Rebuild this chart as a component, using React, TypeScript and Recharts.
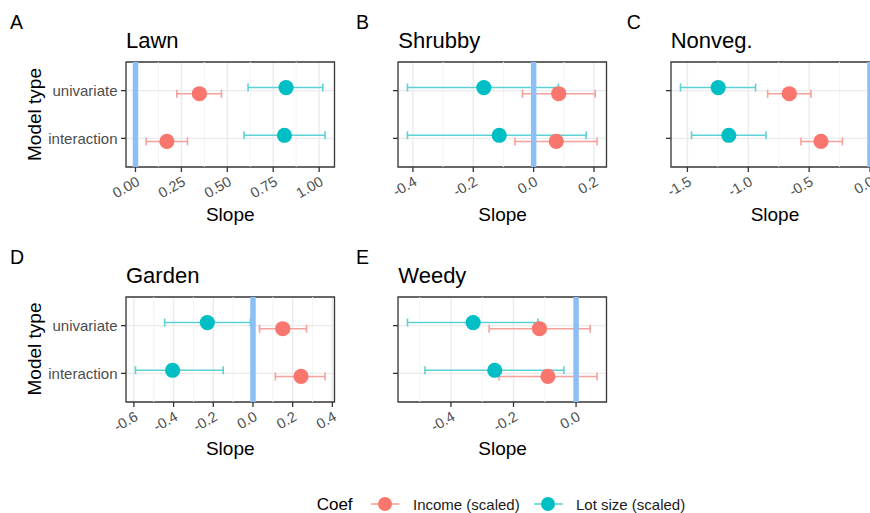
import React from 'react';
import {
  ScatterChart,
  Scatter,
  XAxis,
  YAxis,
  CartesianGrid,
  ErrorBar,
  ReferenceLine,
  ReferenceArea,
} from 'recharts';

const FONT = '"Liberation Sans", Arial, Helvetica, sans-serif';

const modelTypes = ['interaction', 'univariate'];
const coefNames = ['Income (scaled)', 'Lot size (scaled)'];
const coefColors = ['#F8766D', '#00BFC4'];
const coefBarColors = ['#f6a19b', '#5dd2d5'];

// [lower, estimate, upper] for the interaction model, then the univariate model
const lawnIncome = [[0.058, 0.171, 0.283], [0.225, 0.348, 0.468]];
const lawnLot = [[0.591, 0.811, 1.032], [0.613, 0.82, 1.02]];

const shrubbyIncome = [[-0.062, 0.075, 0.21], [-0.037, 0.083, 0.204]];
const shrubbyLot = [[-0.418, -0.114, 0.174], [-0.418, -0.165, 0.082]];

const nonvegIncome = [[-0.567, -0.403, -0.227], [-0.841, -0.663, -0.485]];
const nonvegLot = [[-1.466, -1.16, -0.855], [-1.557, -1.247, -0.94]];

const gardenIncome = [[0.113, 0.242, 0.363], [0.033, 0.15, 0.27]];
const gardenLot = [[-0.592, -0.405, -0.15], [-0.445, -0.23, -0.013]];

const weedyIncome = [[-0.246, -0.09, 0.067], [-0.278, -0.117, 0.045]];
const weedyLot = [[-0.483, -0.26, -0.039], [-0.539, -0.329, -0.122]];

const lawnTicks = [0, 0.25, 0.5, 0.75, 1];
const lawnMinor = [0.125, 0.375, 0.625, 0.875];
const shrubbyTicks = [-0.4, -0.2, 0, 0.2];
const shrubbyMinor = [-0.3, -0.1, 0.1];
const nonvegTicks = [-1.5, -1, -0.5, 0];
const nonvegMinor = [-1.25, -0.75, -0.25];
const gardenTicks = [-0.6, -0.4, -0.2, 0, 0.2, 0.4];
const gardenMinor = [-0.5, -0.3, -0.1, 0.1, 0.3];
const weedyTicks = [-0.4, -0.2, 0];
const weedyMinor = [-0.5, -0.3, -0.1];

// plot-panel size and placement
const PLOT_W = 208.5;
const PLOT_H = 105;
const Y_AXIS_W = 110;
const X_AXIS_H = 36;
const MT = 10;
const MR = 10;
const DODGE = [-0.065, 0.065];

const panels = [
  { letter: 'A', letterX: 10, title: 'Lawn', income: lawnIncome, lot: lawnLot, ticks: lawnTicks, minor: lawnMinor, digits: 2, left: 126, top: 62, showY: true },
  { letter: 'B', letterX: 356, title: 'Shrubby', income: shrubbyIncome, lot: shrubbyLot, ticks: shrubbyTicks, minor: shrubbyMinor, digits: 1, left: 398.3, top: 62, showY: false },
  { letter: 'C', letterX: 626.7, title: 'Nonveg.', income: nonvegIncome, lot: nonvegLot, ticks: nonvegTicks, minor: nonvegMinor, digits: 1, left: 670.7, top: 62, showY: false },
  { letter: 'D', letterX: 10, title: 'Garden', income: gardenIncome, lot: gardenLot, ticks: gardenTicks, minor: gardenMinor, digits: 1, left: 126, top: 296.5, showY: true },
  { letter: 'E', letterX: 356, title: 'Weedy', income: weedyIncome, lot: weedyLot, ticks: weedyTicks, minor: weedyMinor, digits: 1, left: 398.3, top: 296.5, showY: false },
];

// range of every interval plus the zero reference, widened by 5% each side
function expandedDomain(series: number[][][]): [number, number] {
  const vals = [0, ...series.flat(2)];
  const lo = Math.min(...vals);
  const hi = Math.max(...vals);
  const pad = (hi - lo) * 0.05;
  return [lo - pad, hi + pad];
}

const toRows = (vals: number[][], c: number) =>
  vals.map(([lo, est, hi], i) => ({
    x: est,
    y: i + 1 + DODGE[c],
    model: modelTypes[i],
    err: [est - lo, hi - est],
  }));

const XTick = (props: any) => {
  const { x, y, payload, digits } = props;
  return (
    <g transform={`translate(${x},${y}) rotate(-30)`}>
      <text textAnchor="end" dy="0.71em" fontSize={14.5} fill="#4d4d4d" fontFamily={FONT}>
        {Number(payload.value).toFixed(digits)}
      </text>
    </g>
  );
};

const YTick = (props: any) => {
  const { x, y, payload, show } = props;
  if (!show) return <g />;
  return (
    <text x={x} y={y} dy="0.36em" textAnchor="end" fontSize={15} fill="#4d4d4d" fontFamily={FONT}>
      {modelTypes[Math.round(payload.value) - 1]}
    </text>
  );
};

const tickLineStyle = { stroke: '#333333', strokeWidth: 1.3 };

function Panel({ p }: { p: any }) {
  const domain = expandedDomain([p.income, p.lot]);
  const rows = [toRows(p.income, 0), toRows(p.lot, 1)];
  const W = PLOT_W + Y_AXIS_W + MR;
  const H = PLOT_H + MT + X_AXIS_H;
  return (
    <div style={{ position: 'absolute', left: p.left - Y_AXIS_W, top: p.top - MT }}>
      <ScatterChart width={W} height={H} margin={{ top: MT, right: MR, bottom: 0, left: 0 }}>
        <CartesianGrid stroke="#ebebeb" strokeWidth={1.4} />
        {p.minor.map((v: number) => (
          <ReferenceLine key={`m${v}`} x={v} stroke="#f3f3f3" strokeWidth={0.9} />
        ))}
        <XAxis
          type="number"
          dataKey="x"
          domain={domain}
          allowDataOverflow
          ticks={p.ticks}
          interval={0}
          height={X_AXIS_H}
          axisLine={false}
          tickSize={5}
          tickMargin={3.5}
          tickLine={tickLineStyle}
          tick={(tp: any) => <XTick {...tp} digits={p.digits} />}
        />
        <YAxis
          type="number"
          dataKey="y"
          domain={[0.4, 2.6]}
          allowDataOverflow
          ticks={[1, 2]}
          interval={0}
          width={Y_AXIS_W}
          axisLine={false}
          tickSize={5}
          tickMargin={3.5}
          tickLine={tickLineStyle}
          tick={(tp: any) => <YTick {...tp} show={p.showY} />}
        />
        {[0, 1].map((c) => (
          <Scatter
            key={`e${c}`}
            name={coefNames[c]}
            data={rows[c]}
            isAnimationActive={false}
            shape={() => <g />}
          >
            <ErrorBar
              dataKey="err"
              direction="x"
              width={4}
              stroke={coefBarColors[c]}
              strokeWidth={1.6}
              isAnimationActive={false}
            />
          </Scatter>
        ))}
        <ReferenceLine x={0} stroke="#8cbff6" strokeWidth={5.5} />
        {[0, 1].map((c) => (
          <Scatter
            key={`p${c}`}
            name={coefNames[c]}
            data={rows[c]}
            isAnimationActive={false}
            shape={(sp: any) => <circle cx={sp.cx} cy={sp.cy} r={7.6} fill={coefColors[c]} />}
          />
        ))}
        <ReferenceArea
          x1={domain[0]}
          x2={domain[1]}
          y1={0.4}
          y2={2.6}
          fill="none"
          stroke="#3a3a3a"
          strokeWidth={1.3}
          ifOverflow="visible"
        />
      </ScatterChart>
    </div>
  );
}

function Labels() {
  return (
    <svg
      width={870}
      height={513}
      style={{ position: 'absolute', left: 0, top: 0, pointerEvents: 'none' }}
      fontFamily={FONT}
    >
      {panels.map((p) => (
        <g key={`t${p.letter}`}>
          <text x={p.letterX} y={p.top - 33} fontSize={19.5} fill="#000">
            {p.letter}
          </text>
          <text x={p.left} y={p.top - 13.8} fontSize={22} fill="#000">
            {p.title}
          </text>
          <text x={p.left + PLOT_W / 2} y={p.top + PLOT_H + 53.5} fontSize={19} fill="#000" textAnchor="middle">
            Slope
          </text>
          {p.showY && (
            <text
              transform={`translate(41,${p.top + PLOT_H / 2}) rotate(-90)`}
              fontSize={19}
              fill="#000"
              textAnchor="middle"
            >
              Model type
            </text>
          )}
        </g>
      ))}
      <text x={316.7} y={509.5} fontSize={17} fill="#000">
        Coef
      </text>
      <line x1={371} x2={399.3} y1={504} y2={504} stroke={coefBarColors[0]} strokeWidth={1.6} />
      <circle cx={385} cy={504} r={7} fill={coefColors[0]} />
      <text x={413} y={509.5} fontSize={15} fill="#1a1a1a">
        {coefNames[0]}
      </text>
      <line x1={534} x2={562.7} y1={504} y2={504} stroke={coefBarColors[1]} strokeWidth={1.6} />
      <circle cx={548} cy={504} r={7} fill={coefColors[1]} />
      <text x={576} y={509.5} fontSize={15} fill="#1a1a1a">
        {coefNames[1]}
      </text>
    </svg>
  );
}

export default function App() {
  return (
    <div
      style={{
        position: 'absolute',
        left: 0,
        top: 0,
        width: 870,
        height: 513,
        overflow: 'hidden',
        background: '#ffffff',
      }}
    >
      {panels.map((p) => (
        <Panel key={p.letter} p={p} />
      ))}
      <Labels />
    </div>
  );
}
